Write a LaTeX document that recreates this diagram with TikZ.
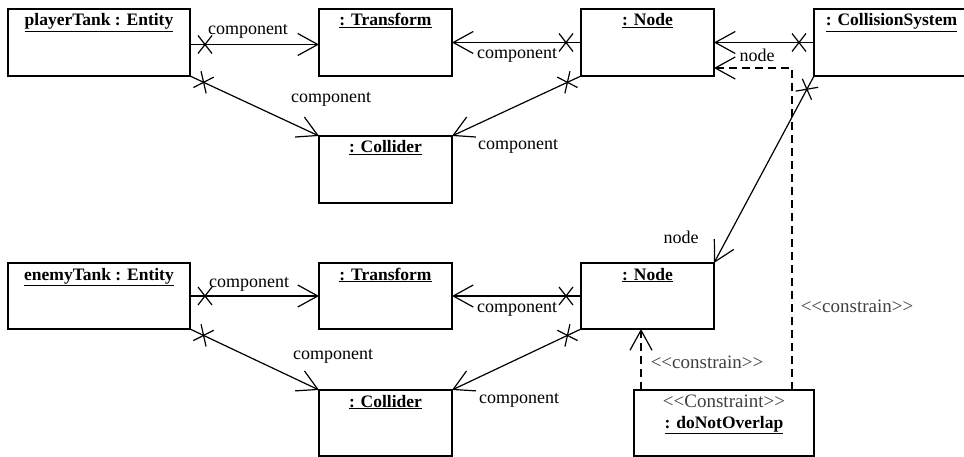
\documentclass[tikz,border=0pt]{standalone}
\usepackage{fontspec}
\setmainfont{Liberation Serif}
\usetikzlibrary{arrows.meta,decorations.markings,calc}
\begin{document}
\begin{tikzpicture}[x=1pt,y=-1pt,
  box/.style={draw, line width=1.3pt, inner sep=0pt, outer sep=0pt, anchor=north west},
  ttl/.style={font=\fontsize{17.5}{20}\selectfont\bfseries, anchor=base, inner sep=0pt},
  lbl/.style={font=\fontsize{18}{20}\selectfont, inner sep=0pt},
  ster/.style={font=\fontsize{19}{21}\selectfont, text=black!75, inner sep=0pt},
  tipb/.style={-{Straight Barb[length=20pt,width=22pt,line width=1.2pt]}},
  conn/.style={line width=1.2pt, tipb, postaction={decorate},
    decoration={markings, mark=at position 15pt with {\draw[-,line width=1.2pt,solid] (-7pt,-9pt)--(7pt,9pt) (-7pt,9pt)--(7pt,-9pt);}}},
  dep/.style={line width=1.2pt, dash pattern=on 8pt off 5pt, tipb}
]
\path[use as bounding box] (0,0) rectangle (964,457);
\clip (0,0) rectangle (964,457);
\fill[white] (0,0) rectangle (964,457);

% top row
\node[box, minimum width=182pt, minimum height=67pt] (pt) at (8,9) {};
\node[ttl] (ptt) at ([yshift=-17pt]pt.north) {\underline{playerTank : Entity}};
\node[box, minimum width=133pt, minimum height=67pt] (tr1) at (319,9) {};
\node[ttl] (tr1t) at ([yshift=-17pt]tr1.north) {\underline{: Transform}};
\node[box, minimum width=133pt, minimum height=67pt] (nd1) at (581,9) {};
\node[ttl] (nd1t) at ([yshift=-17pt]nd1.north) {\underline{: Node}};
\node[box, minimum width=155pt, minimum height=67pt] (cs) at (814,9) {};
\node[ttl] (cst) at ([yshift=-17pt]cs.north) {\underline{: CollisionSystem}};
\node[box, minimum width=133pt, minimum height=67pt] (co1) at (319,136) {};
\node[ttl] (co1t) at ([yshift=-17pt]co1.north) {\underline{: Collider}};

% bottom row
\node[box, minimum width=182pt, minimum height=66pt] (et) at (8,263) {};
\node[ttl] (ett) at ([yshift=-17pt]et.north) {\underline{enemyTank : Entity}};
\node[box, minimum width=133pt, minimum height=66pt] (tr2) at (319,263) {};
\node[ttl] (tr2t) at ([yshift=-17pt]tr2.north) {\underline{: Transform}};
\node[box, minimum width=133pt, minimum height=66pt] (nd2) at (581,263) {};
\node[ttl] (nd2t) at ([yshift=-17pt]nd2.north) {\underline{: Node}};
\node[box, minimum width=133pt, minimum height=66pt] (co2) at (319,390) {};
\node[ttl] (co2t) at ([yshift=-17pt]co2.north) {\underline{: Collider}};
\node[box, minimum width=180pt, minimum height=66pt] (dn) at (634,390) {};
\node[ster, anchor=base] (dns) at ([yshift=-17pt]dn.north) {<{}<Constraint>{}>};
\node[ttl] (dnt) at ([yshift=-38pt]dn.north) {\underline{: doNotOverlap}};

% connectors top
\draw[conn] ([yshift=-2pt]pt.east) -- ([yshift=-2pt]tr1.west);
\draw[conn] (nd1.west) -- (tr1.east);
\draw[conn] (pt.south east) -- (co1.north west);
\draw[conn] (nd1.south west) -- (co1.north east);
\draw[conn] (cs.west) -- (nd1.east);
\draw[conn] (cs.south west) -- (nd2.north east);
\coordinate (dA) at ([xshift=-22pt]dn.north east);
\coordinate (dB) at ([yshift=8pt]nd1.south east);
\draw[dep] (dA) |- (dB);

% connectors bottom
\draw[conn] (et.east) -- (tr2.west);
\draw[conn] (nd2.west) -- (tr2.east);
\draw[conn] (et.south east) -- (co2.north west);
\draw[conn] (nd2.south west) -- (co2.north east);
\coordinate (dC) at ([xshift=7pt]dn.north west);
\draw[dep] (dC) -- (dC |- nd2.south);

% labels
\node[lbl] (l1) at (248,31) {component};
\node[lbl] (l2) at (517,55) {component};
\node[lbl] (l3) at (331,99) {component};
\node[lbl] (l4) at (518,146) {component};
\node[lbl] (l5) at (757,55) {node};
\node[lbl] (l6) at (681,237) {node};
\node[ster] (l7) at (857,306) {<{}<constrain>{}>};
\node[ster] (l8) at (707,362) {<{}<constrain>{}>};
\node[lbl] (l9) at (249,284) {component};
\node[lbl] (l10) at (517,309) {component};
\node[lbl] (l11) at (333,356) {component};
\node[lbl] (l12) at (519,400) {component};
\end{tikzpicture}
\end{document}
